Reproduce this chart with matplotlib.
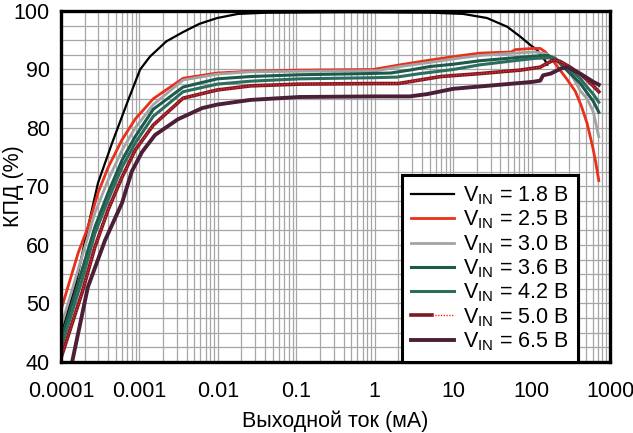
import matplotlib
matplotlib.use("Agg")
import matplotlib.pyplot as plt
from matplotlib.legend_handler import HandlerTuple
from matplotlib.ticker import FixedLocator, NullFormatter
import numpy as np

plt.rcParams["font.family"] = ["Liberation Sans", "DejaVu Sans"]
plt.rcParams["mathtext.fontset"] = "custom"
plt.rcParams["mathtext.rm"] = "Liberation Sans"

# output current (mA) and efficiency (%)
i_18 = [0.0001, 0.000151, 0.000221, 0.000296, 0.000447, 0.00072, 0.00102, 0.00136, 0.0022,
        0.0036, 0.0058, 0.0098, 0.018, 0.04, 0.5, 5.6, 13.4, 27, 49, 72, 96, 118, 149, 158]
e_18 = [45.0, 52.8, 63.1, 70.6, 77.4, 84.8, 90.0, 92.2, 94.8,
        96.4, 97.8, 98.8, 99.5, 99.7, 99.8, 99.7, 99.5, 98.8, 97.3, 95.6, 94.2, 93.3, 91.5, 90.8]

i_25 = [0.0001, 0.000165, 0.000221, 0.000296, 0.0004, 0.0006, 0.00088, 0.0015, 0.0036, 0.0098,
        0.026, 0.11, 0.95, 2.1, 5, 10, 22, 55, 62, 104, 129, 150, 190, 280, 360, 430, 510, 600,
        650, 720]
e_25 = [48.9, 58.6, 63.1, 68.9, 73.3, 78.0, 81.5, 85.0, 88.5, 89.4,
        89.7, 89.9, 90.0, 90.8, 91.6, 92.2, 92.8, 93.0, 93.4, 93.6, 93.6, 93.0, 91.4, 88.4, 86.3,
        83.8, 80.8, 76.8, 74.5, 71.0]

i_30 = [0.0001, 0.000185, 0.000271, 0.000398, 0.0006, 0.00088, 0.0015, 0.0036, 0.0098, 0.026,
        0.11, 1.07, 2.1, 5, 10, 22, 60, 110, 160, 250, 310, 416, 510, 610, 720]
e_30 = [46.0, 58.0, 65.5, 71.1, 76.2, 80.0, 84.0, 88.2, 89.2, 89.6,
        89.7, 89.8, 90.5, 91.2, 91.8, 92.4, 92.8, 93.0, 92.6, 90.6, 89.5, 86.4, 85.0, 82.8, 78.5]

i_36 = [0.0001, 0.000185, 0.000271, 0.000398, 0.0006, 0.00088, 0.0015, 0.0036, 0.0098, 0.026,
        0.11, 0.8, 1.6, 2.8, 5, 10, 22, 60, 110, 160, 200, 310, 420, 510, 610, 720]
e_36 = [43.8, 55.7, 63.1, 68.9, 74.5, 78.5, 83.2, 87.0, 88.4, 88.8,
        89.1, 89.3, 89.4, 89.9, 90.5, 90.9, 91.5, 92.0, 92.3, 92.4, 91.9, 89.3, 87.6, 86.0, 84.6,
        82.7]

i_42 = [0.0001, 0.000185, 0.000271, 0.000398, 0.0006, 0.00088, 0.0015, 0.0036, 0.0098, 0.026,
        0.11, 1.0, 1.9, 3.8, 10, 22, 60, 110, 175, 200, 310, 420, 510, 610, 720]
e_42 = [42.4, 54.0, 62.0, 67.7, 73.3, 77.4, 82.0, 86.2, 87.5, 88.0,
        88.4, 88.6, 88.7, 89.3, 90.0, 90.8, 91.5, 91.9, 92.0, 91.9, 89.9, 88.4, 87.0, 85.8, 84.4]

i_50 = [0.0001, 0.000185, 0.000271, 0.000398, 0.0006, 0.00088, 0.0015, 0.0036, 0.0098, 0.026,
        0.11, 1.0, 2.0, 7.0, 22, 72, 129, 150, 190, 230, 310, 420, 510, 610, 720]
e_50 = [40.7, 51.8, 59.7, 66.0, 71.6, 76.2, 80.5, 85.1, 86.5, 87.2,
        87.5, 87.6, 87.6, 88.8, 89.3, 89.9, 90.4, 90.9, 91.6, 91.4, 90.4, 89.2, 88.2, 87.2, 86.2]

i_65 = [0.00014, 0.00022, 0.000364, 0.0006, 0.0008, 0.00108, 0.00158, 0.0031, 0.0063, 0.0098,
        0.026, 0.11, 1.0, 2.8, 4.7, 10, 22, 72, 105, 129, 140, 175, 240, 284, 416, 610, 720]
e_65 = [40.3, 52.8, 60.8, 67.2, 72.6, 75.9, 78.8, 81.5, 83.4, 84.0,
        84.8, 85.3, 85.4, 85.4, 85.8, 86.7, 87.1, 87.7, 87.9, 88.1, 89.0, 89.3, 90.2, 90.4, 89.3,
        87.9, 87.4]

labels = ["1.8", "2.5", "3.0", "3.6", "4.2", "5.0", "6.5"]
x_ticks = [0.0001, 0.001, 0.01, 0.1, 1, 10, 100, 1000]
x_ticklabels = ["0.0001", "0.001", "0.01", "0.1", "1", "10", "100", "1000"]
y_ticks = [40, 50, 60, 70, 80, 90, 100]

FS = 15.5

fig = plt.figure(figsize=(6.33, 4.33), dpi=100)
ax = fig.add_axes([0.0964, 0.164, 0.8673, 0.8106])
ax.set_xscale("log")
ax.set_xlim(0.0001, 1000)
ax.set_ylim(40, 100)

# grid
minor = [m * 10.0 ** d for d in range(-4, 3) for m in range(2, 10)]
ax.xaxis.set_minor_locator(FixedLocator(minor))
ax.xaxis.set_minor_formatter(NullFormatter())
ax.yaxis.set_minor_locator(FixedLocator(np.arange(40, 100.1, 2.5)))
ax.grid(True, which="both", color="#a6a6a6", linewidth=0.9)
ax.set_axisbelow(True)

lw = 2.0
h18, = ax.plot(i_18, e_18, color="black", lw=1.6)
h25, = ax.plot(i_25, e_25, color="#e8301c", lw=lw)
h30, = ax.plot(i_30, e_30, color="#a3a3a3", lw=lw)
h36, = ax.plot(i_36, e_36, color="#1d5a4c", lw=2.2)
h42, = ax.plot(i_42, e_42, color="#2b6e5e", lw=2.2)
h50a, = ax.plot(i_50, e_50, color="#7a1a28", lw=2.6)
h50b, = ax.plot(i_50, e_50, color="#ff2a1a", lw=1.0, ls=(0, (1, 1)))
h65, = ax.plot(i_65, e_65, color="#4b1f36", lw=2.8)

ax.set_xticks(x_ticks)
ax.set_xticklabels(x_ticklabels)
ax.set_yticks(y_ticks)
ax.tick_params(axis="x", which="both", length=0, labelsize=FS, pad=14)
ax.tick_params(axis="y", which="both", length=0, labelsize=FS, pad=8)
for s in ax.spines.values():
    s.set_linewidth(2.4)
    s.set_zorder(5)

ax.set_xlabel("Выходной ток (мА)", fontsize=FS, va="center")
ax.xaxis.set_label_coords(0.5, -0.168)
ax.set_ylabel("КПД (%)", fontsize=FS, va="center")
ax.yaxis.set_label_coords(-0.087, 0.5)

handles = [h18, h25, h30, h36, h42, (h50a, h50b), h65]
leg = ax.legend(handles, [r"V$_{\mathrm{IN}}$ = " + v + " В" for v in labels],
                loc="lower right", bbox_to_anchor=(0.942, 0.0), borderaxespad=0,
                fontsize=FS, handlelength=2.0, labelspacing=0.08, handletextpad=0.45,
                borderpad=0.42, fancybox=False, framealpha=1, edgecolor="black",
                handler_map={tuple: HandlerTuple(ndivide=None, pad=0)})
leg.get_frame().set_linewidth(2.2)
leg.set_zorder(6)

fig.savefig("out.png", dpi=100)
